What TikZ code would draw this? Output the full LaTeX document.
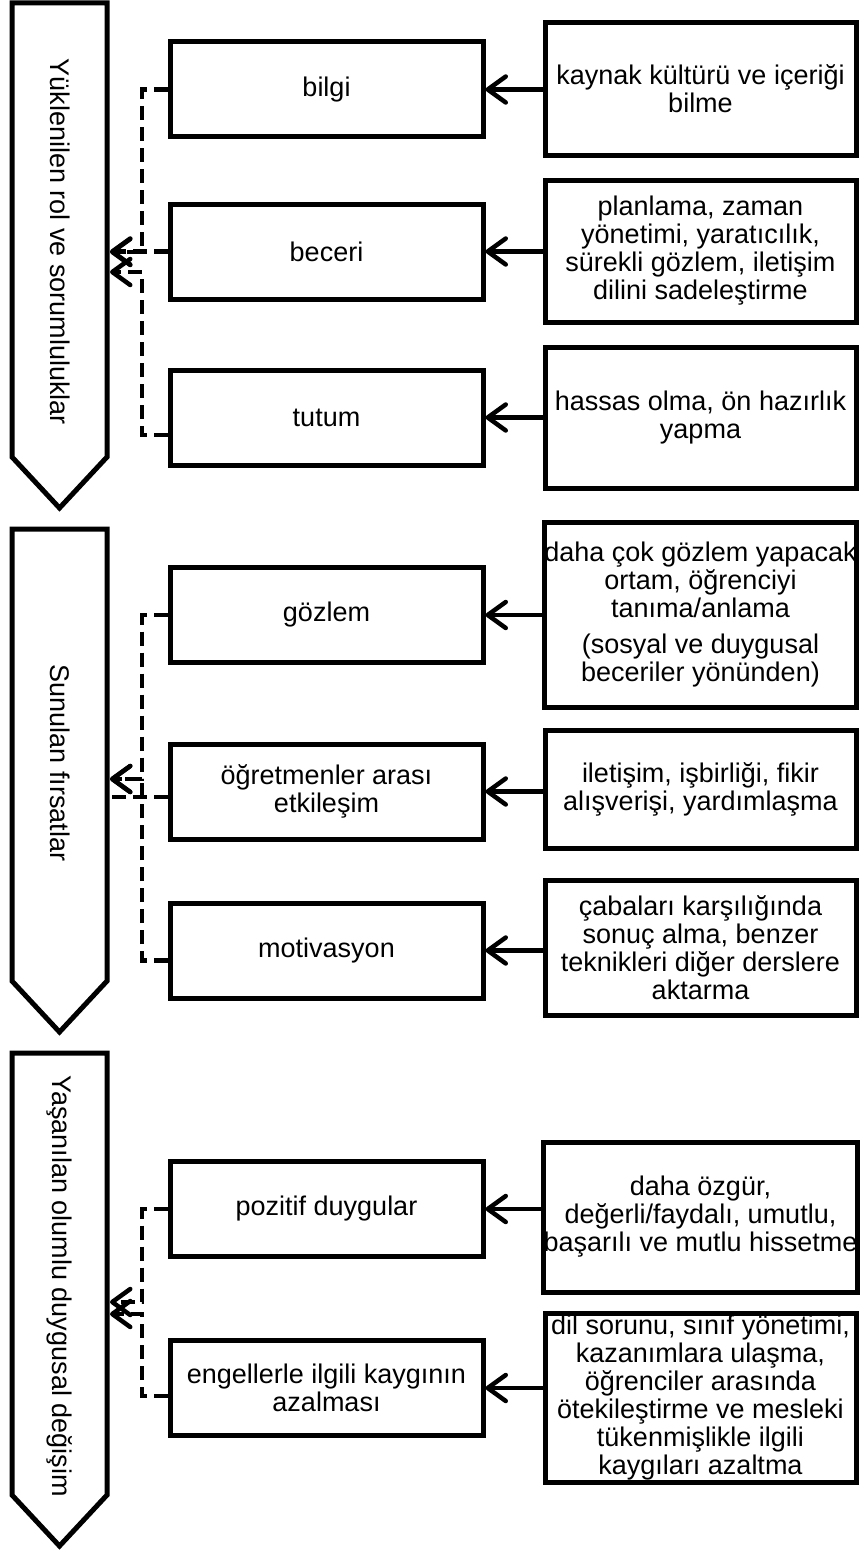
\documentclass[tikz,border=0pt]{standalone}
\usepackage{fontspec}
\setmainfont{Liberation Sans}
\usetikzlibrary{arrows.meta}
\begin{document}
\begin{tikzpicture}[x=1pt,y=-1pt,
  txt/.style={font=\fontsize{27}{28}\selectfont},
  midbox/.style={draw, line width=5pt, line join=miter, minimum width=313pt, minimum height=95pt, align=center, inner sep=0pt, txt},
  rbox/.style={draw, line width=5pt, line join=miter, minimum width=311pt, align=center, inner sep=0pt, txt},
  pent/.style={draw, line width=5pt, line join=miter, fill=white},
  solidarrow/.style={line width=4.5pt, -{Straight Barb[length=18pt,width=26pt,round]}},
  dasharrow/.style={line width=4.5pt, dash pattern=on 14pt off 7pt, -{Straight Barb[length=18pt,width=26pt,round]}},
  dashline/.style={line width=4.5pt, dash pattern=on 14pt off 7pt}
]
\fill[white] (0,0) rectangle (860,1560);
\useasboundingbox (0,0) rectangle (860,1560);

% ---------- pentagon arrows ----------
\draw[pent] (12,3) -- (107,3) -- (107,457) -- (59.5,508) -- (12,457) -- cycle;
\node[txt, rotate=-90] (p1) at (60,242) {Yüklenilen rol ve sorumluluklar};
\draw[pent] (12,529) -- (107,529) -- (107,981) -- (59.5,1032) -- (12,981) -- cycle;
\node[txt, rotate=-90] (p2) at (60,763) {Sunulan fırsatlar};
\draw[pent] (12,1053) -- (107,1053) -- (107,1495) -- (59.5,1546) -- (12,1495) -- cycle;
\node[txt, rotate=-90] (p3) at (60,1286) {Yaşanılan olumlu duygusal değişim};

% ---------- middle boxes ----------
\node[midbox] (bilgi) at (326.5,89.5) {bilgi};
\node[midbox] (beceri) at (326.5,251.5) {beceri};
\node[midbox] (tutum) at (326.5,417.5) {tutum};
\node[midbox] (gozlem) at (326.5,615) {gözlem};
\node[midbox] (ogret) at (326.5,791.5) {öğretmenler arası\\etkileşim};
\node[midbox] (motiv) at (326.5,950.5) {motivasyon};
\node[midbox] (poz) at (326.5,1209) {pozitif duygular};
\node[midbox] (engel) at (326.5,1388) {engellerle ilgili kaygının\\azalması};

% ---------- right boxes ----------
\node[rbox, minimum height=132pt] (kaynak) at (700.5,89) {kaynak kültürü ve içeriği\\bilme};
\node[rbox, minimum height=142pt] (plan) at (700.5,251) {planlama, zaman\\yönetimi, yaratıcılık,\\sürekli gözlem, iletişim\\dilini sadeleştirme};
\node[rbox, minimum height=141pt] (hassas) at (700.5,417.5) {hassas olma, ön hazırlık\\yapma};
\node[rbox, minimum height=185pt] (dahacok) at (700.5,614.5) {daha çok gözlem yapacak\\ortam, öğrenciyi\\tanıma/anlama\\[8pt](sosyal ve duygusal\\beceriler yönünden)};
\node[rbox, minimum height=118pt] (iletisim) at (700.5,789) {iletişim, işbirliği, fikir\\alışverişi, yardımlaşma};
\node[rbox, minimum height=135pt] (caba) at (700.5,947.5) {çabaları karşılığında\\sonuç alma, benzer\\teknikleri diğer derslere\\aktarma};
\node[rbox, minimum height=150pt] (ozgur) at (700.5,1217) {daha özgür,\\değerli/faydalı, umutlu,\\başarılı ve mutlu hissetme};
\node[rbox, minimum height=169pt] (dil) at (700.5,1397.5) {dil sorunu, sınıf yönetimi,\\kazanımlara ulaşma,\\öğrenciler arasında\\ötekileştirme ve mesleki\\tükenmişlikle ilgili\\kaygıları azaltma};

% ---------- solid arrows (right -> middle) ----------
\draw[solidarrow] (kaynak.west |- bilgi) -- (bilgi.east);
\draw[solidarrow] (plan.west |- beceri) -- (beceri.east);
\draw[solidarrow] (hassas.west |- tutum) -- (tutum.east);
\draw[solidarrow] (dahacok.west |- gozlem) -- (gozlem.east);
\draw[solidarrow] (iletisim.west |- ogret) -- (ogret.east);
\draw[solidarrow] (caba.west |- motiv) -- (motiv.east);
\draw[solidarrow] (ozgur.west |- poz) -- (poz.east);
\draw[solidarrow] (dil.west |- engel) -- (engel.east);

% ---------- dashed connectors (middle -> pentagon) ----------
\coordinate (vx) at (142,0);
\coordinate (t1a) at (110,252);
\coordinate (t1b) at (110,272);
\coordinate (t2a) at (110,779);
\coordinate (t2b) at (110,797);
\coordinate (t3a) at (110,1302);
\coordinate (t3b) at (110,1314);

\draw[dasharrow] (bilgi.west) -- (bilgi.west -| vx) |- (t1a);
\draw[dasharrow] (beceri.west) -- (beceri.west -| t1a);
\draw[dasharrow] ([yshift=-17.5pt]tutum.west) -- ([yshift=-17.5pt]tutum.west -| vx) |- (t1b);

\draw[dasharrow] (gozlem.west) -- (gozlem.west -| vx) |- (t2a);
\draw[dashline] ([yshift=-5.5pt]ogret.west) -- (t2b);
\draw[dasharrow] ([yshift=-10pt]motiv.west) -- ([yshift=-10pt]motiv.west -| vx) |- (t2a);

\draw[dasharrow] (poz.west) -- (poz.west -| vx) |- (t3a);
\draw[dasharrow] ([yshift=-8pt]engel.west) -- ([yshift=-8pt]engel.west -| vx) |- (t3b);
\end{tikzpicture}
\end{document}
